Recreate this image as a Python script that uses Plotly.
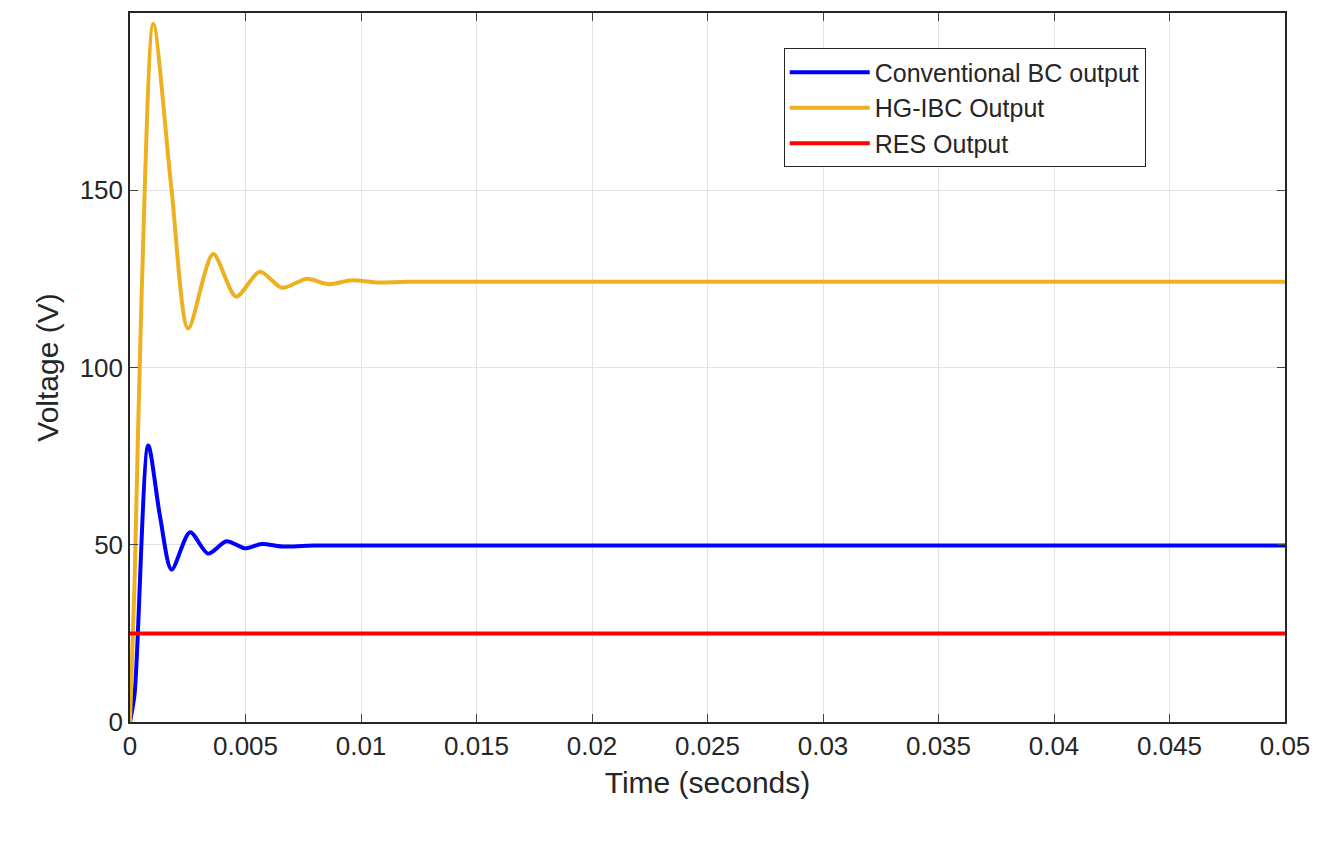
import plotly.graph_objects as go

t_hg = [0, 0.0002, 0.0005, 0.00101, 0.0018, 0.00252, 0.0036, 0.00459, 0.00562, 0.00658, 0.00764, 0.0086, 0.0096, 0.0108, 0.012, 0.05]
v_hg = [0, 40, 120, 197, 150, 111, 132, 120, 127, 122.5, 125, 123.5, 124.6, 124, 124.2, 124.2]
t_bc = [0, 0.0002, 0.00079, 0.0013, 0.0018, 0.0026, 0.00338, 0.00418, 0.00497, 0.0057, 0.0066, 0.008, 0.05]
v_bc = [0, 8, 78, 58, 43, 53.5, 47.5, 51, 49, 50.2, 49.5, 49.8, 49.8]
t_res = [0, 0.05]
v_res = [25, 25]

fig = go.Figure()
fig.add_trace(go.Scatter(x=t_bc, y=v_bc, mode="lines", name="Conventional BC output",
                         line=dict(color="#0000ff", width=4, shape="spline", smoothing=0.8)))
fig.add_trace(go.Scatter(x=t_hg, y=v_hg, mode="lines", name="HG-IBC Output",
                         line=dict(color="#EDB120", width=4, shape="spline", smoothing=0.8)))
fig.add_trace(go.Scatter(x=t_res, y=v_res, mode="lines", name="RES Output",
                         line=dict(color="#ff0000", width=4)))

ax = dict(showline=True, linecolor="#262626", linewidth=1.5, mirror="ticks", ticks="inside",
          ticklen=8, showgrid=True, gridcolor="#e3e3e3", zeroline=False,
          tickfont=dict(size=26, color="#262626"))
fig.update_xaxes(range=[0, 0.05], tickvals=[i*0.005 for i in range(11)],
                 ticktext=["0","0.005","0.01","0.015","0.02","0.025","0.03","0.035","0.04","0.045","0.05"],
                 title=dict(text="Time (seconds)", font=dict(size=30, color="#262626"), standoff=12), **ax)
fig.update_yaxes(range=[0, 200], dtick=50,
                 title=dict(text="Voltage (V)", font=dict(size=30, color="#262626"), standoff=12), **ax)
fig.update_layout(width=1324, height=843, plot_bgcolor="white", paper_bgcolor="white",
                  font=dict(family="Liberation Sans, Arial", color="#262626"),
                  margin=dict(l=122, r=47, t=3, b=129),
                  legend=dict(x=0.566, y=0.95, xanchor="left", yanchor="top", bgcolor="white",
                              bordercolor="#262626", borderwidth=1, font=dict(size=25),
                              tracegroupgap=0, itemwidth=80))
fig.write_html("out.html")
